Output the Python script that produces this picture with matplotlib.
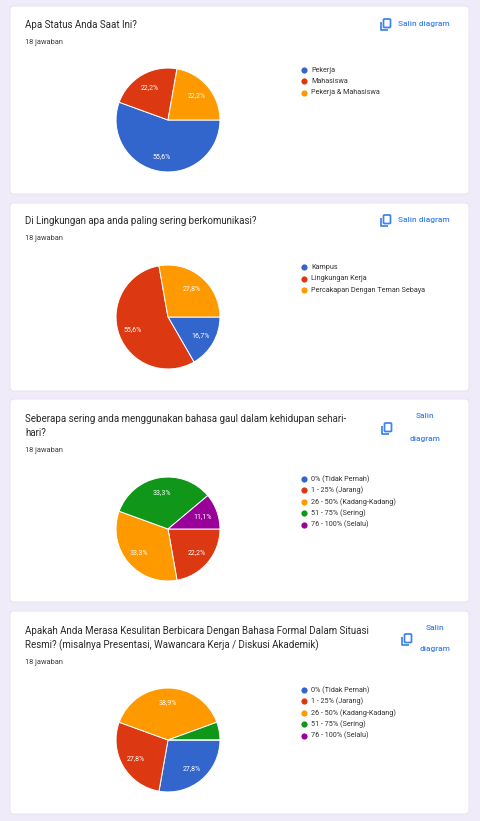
import matplotlib.pyplot as plt
from matplotlib.patches import FancyBboxPatch, Rectangle

plt.rcParams['font.family'] = ['Roboto', 'DejaVu Sans']

# data (18 responses each)
status_labels = ["Pekerja", "Mahasiswa", "Pekerja & Mahasiswa"]
status_counts = [10, 4, 4]

lingkungan_labels = ["Kampus", "Lingkungan Kerja", "Percakapan Dengan Teman Sebaya"]
lingkungan_counts = [3, 10, 5]

freq_labels = ["0% (Tidak Pernah)", "1 - 25% (Jarang)", "26 - 50% (Kadang-Kadang)",
               "51 - 75% (Sering)", "76 - 100% (Selalu)"]
gaul_counts = [0, 4, 6, 6, 2]
formal_counts = [5, 5, 7, 1, 0]

titles = [
    "Apa Status Anda Saat Ini?",
    "Di Lingkungan apa anda paling sering berkomunikasi?",
    "Seberapa sering anda menggunakan bahasa gaul dalam kehidupan sehari-\nhari?",
    "Apakah Anda Merasa Kesulitan Berbicara Dengan Bahasa Formal Dalam Situasi\n"
    "Resmi? (misalnya Presentasi, Wawancara Kerja / Diskusi Akademik)",
]
n_answers = "18 jawaban"

colors = ["#3366cc", "#dc3912", "#ff9900", "#109618", "#990099"]
BG = "#f0ebf8"
BLUE_LINK = "#3d82ee"
TXT = "#2a2a2e"

# card layout in pixels: top, bottom, title y, jawaban y, pie centre y, legend first row y
cards = [
    dict(top=6, bot=194, ty=24.5, jy=42, py=120, ly=70, wrap=False, icon=(385, 24)),
    dict(top=203, bot=391, ty=221, jy=238.5, py=317, ly=267.5, wrap=False, icon=(385, 220)),
    dict(top=399, bot=602, ty=419, jy=451, py=529, ly=479, wrap=True, icon=(386, 428), sx=425),
    dict(top=611, bot=814, ty=630.5, jy=662, py=740, ly=690, wrap=True, icon=(406, 639), sx=435),
]
data = [
    (status_labels, status_counts),
    (lingkungan_labels, lingkungan_counts),
    (freq_labels, gaul_counts),
    (freq_labels, formal_counts),
]

W, H = 480, 821
fig = plt.figure(figsize=(W / 100, H / 100), dpi=100, facecolor=BG)
bg = fig.add_axes([0, 0, 1, 1])
bg.set_xlim(0, W)
bg.set_ylim(H, 0)
bg.axis('off')


def copy_icon(ax, cx, cy):
    # front sheet
    ax.add_patch(FancyBboxPatch((cx - 1.5, cy - 5), 7, 8.5,
                                boxstyle="round,pad=0,rounding_size=1", fill=False,
                                edgecolor=BLUE_LINK, linewidth=1.25))
    # back sheet (L shape)
    ax.plot([cx - 4.5, cx - 4.5, cx + 3], [cy - 2, cy + 6, cy + 6],
            color=BLUE_LINK, linewidth=1.25, solid_capstyle='butt')


def fmt(p):
    if p < 10:
        return ""
    return f"{p:.1f}%".replace(".", ",")


R = 53
for card, title, (labels, counts) in zip(cards, titles, data):
    bg.add_patch(FancyBboxPatch((10, card['top']), 459, card['bot'] - card['top'],
                                boxstyle="round,pad=0,rounding_size=4",
                                facecolor="white", edgecolor="#e4e0ea", linewidth=0.6))
    for i, line in enumerate(title.split("\n")):
        bg.text(25, card['ty'] + i * 14.5, line, fontsize=7, color=TXT, va='center')
    bg.text(25, card['jy'], n_answers, fontsize=5.3, color="#3c3c40", va='center')

    ix, iy = card['icon']
    copy_icon(bg, ix, iy)
    if card['wrap']:
        sx = card['sx']
        bg.text(sx, iy - 11.5, "Salin", fontsize=6, color=BLUE_LINK,
                fontweight='medium', ha='center', va='center')
        bg.text(sx, iy + 10.5, "diagram", fontsize=6, color=BLUE_LINK,
                fontweight='medium', ha='center', va='center')
    else:
        bg.text(398, iy, "Salin diagram", fontsize=6, color=BLUE_LINK,
                fontweight='medium', ha='left', va='center')

    for i, lab in enumerate(labels):
        y = card['ly'] + i * 11.4
        bg.scatter([304], [y], s=20, color=colors[i], linewidths=0)
        bg.text(311, y, lab, fontsize=5.2, color="#333333", va='center')

    cx, cy = 168, card['py']
    ax = fig.add_axes([(cx - R) / W, 1 - (cy + R) / H, 2 * R / W, 2 * R / H])
    ax.pie(counts, colors=colors[:len(counts)], startangle=0, counterclock=False,
           autopct=fmt, pctdistance=0.72,
           wedgeprops=dict(edgecolor='white', linewidth=0.7),
           textprops=dict(color='white', fontsize=5))
    ax.set_xlim(-1.02, 1.02)
    ax.set_ylim(-1.02, 1.02)

fig.savefig("out.png", dpi=100, facecolor=BG)
